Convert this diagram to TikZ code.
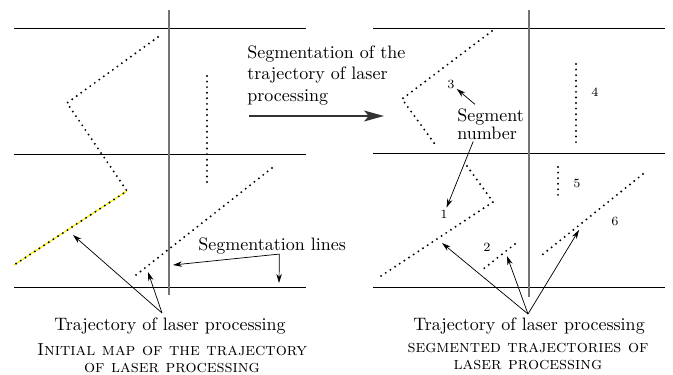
\documentclass[tikz,border=0pt]{standalone}
\usepackage{tikz}
\usetikzlibrary{arrows.meta,positioning,calc}

\begin{document}
\begin{tikzpicture}[x=0.5556pt, y=-0.5556pt,
    grid/.style={black, line width=0.5pt},
    axis/.style={black!55, line width=1.1pt},
    traj/.style={line width=1.2pt, dash pattern=on 0pt off 3.1pt, line cap=round},
    hilite/.style={yellow, line width=0.7pt},
    lbl/.style={font=\normalsize, inner sep=0pt},
    num/.style={font=\scriptsize, inner sep=1pt},
    figcap/.style={font=\fontsize{9.7}{9.5}\selectfont\scshape, align=center, inner sep=0pt},
    arrow/.style={-{Stealth[length=5pt,width=3pt]}, line width=0.4pt},
    bigarrow/.style={-{Stealth[length=11pt,width=6pt,inset=2.5pt]}, line width=1.1pt, black!80}]

    \useasboundingbox (0,0) rectangle (673,374);

    % Grid - left map
    \draw[grid] (14,28) -- (306,28);
    \draw[grid] (14,154) -- (306,154);
    \draw[grid] (14,287) -- (306,287);
    \draw[axis] (169,10) -- (169,295);
    % Grid - right map
    \draw[grid] (373,28) -- (665,28);
    \draw[grid] (373,153) -- (665,153);
    \draw[grid] (373,287) -- (665,287);
    \draw[axis] (529,10) -- (529,297);

    % Trajectory - left map
    \draw[hilite] (127,191) -- (14,265);
    \draw[traj] (158,37) -- (67,103) -- (127,191) -- (14,265);
    \draw[traj] (207,76) -- (207,183);
    \draw[traj] (272,168) -- (136,275);

    % Trajectory - right map (segments)
    \draw[traj] (492,31) -- (402,99) -- (437,147);
    \draw[traj] (576,64) -- (576,143);
    \draw[traj] (467,166) -- (493,202) -- (381,276);
    \draw[traj] (515,244) -- (482,270);
    \draw[traj] (558,167) -- (558,197);
    \draw[traj] (643,174) -- (542,255);

    % Segment numbers
    \node[num] (n1) at (444,214) {1};
    \node[num] (n2) at (487,247) {2};
    \node[num] (n3) at (451,84) {3};
    \node[num] (n4) at (595,92) {4};
    \node[num] (n5) at (577,183) {5};
    \node[num] (n6) at (615,221) {6};

    % Labels
    \node[lbl, anchor=north west, align=left] (segtxt) at (247,45) {Segmentation of the\\trajectory of laser\\processing};
    \node[lbl, anchor=base west] (seglines) at (198,250) {Segmentation lines};
    \node[lbl, anchor=north west, align=left, font=\fontsize{10}{10}\selectfont] (segnum) at (457,108) {Segment\\number};
    \node[lbl, anchor=base] (trajL) at (170,330) {Trajectory of laser processing};
    \node[lbl, anchor=base] (trajR) at (529,330) {Trajectory of laser processing};
    \node[figcap, anchor=north] (capL) at (172,343) {Initial map of the trajectory\\of laser processing};
    \node[figcap, anchor=north] (capR) at (528,343) {segmented trajectories of\\laser processing};

    % Points on the paths
    \coordinate (bigS) at (249,116);
    \coordinate (bigE) at (384,116);
    \coordinate (cutV) at (173,265);
    \coordinate (cutH) at (279,283);
    \coordinate (fanL) at (162,313);
    \coordinate (fanR) at (528,314);
    \coordinate (hitA) at (73,235);
    \coordinate (hitB) at (148,272);
    \coordinate (hitC) at (442,243);
    \coordinate (hitD) at (507,256);
    \coordinate (hitE) at (579,230);

    % Arrows
    \draw[bigarrow] (bigS) -- (bigE);
    \draw[arrow] ([xshift=4pt]seglines.south) -- (cutV);
    \draw[arrow] ([xshift=4pt]seglines.south) -- (cutH);
    \draw[arrow] ([xshift=10pt,yshift=2pt]segnum.north west) -- (n3);
    \draw[arrow] ([xshift=9pt,yshift=-1pt]segnum.south west) -- (n1);
    \draw[arrow] (fanL) -- (hitA);
    \draw[arrow] (fanL) -- (hitB);
    \draw[arrow] (fanR) -- (hitC);
    \draw[arrow] (fanR) -- (hitD);
    \draw[arrow] (fanR) -- (hitE);
\end{tikzpicture}
\end{document}
